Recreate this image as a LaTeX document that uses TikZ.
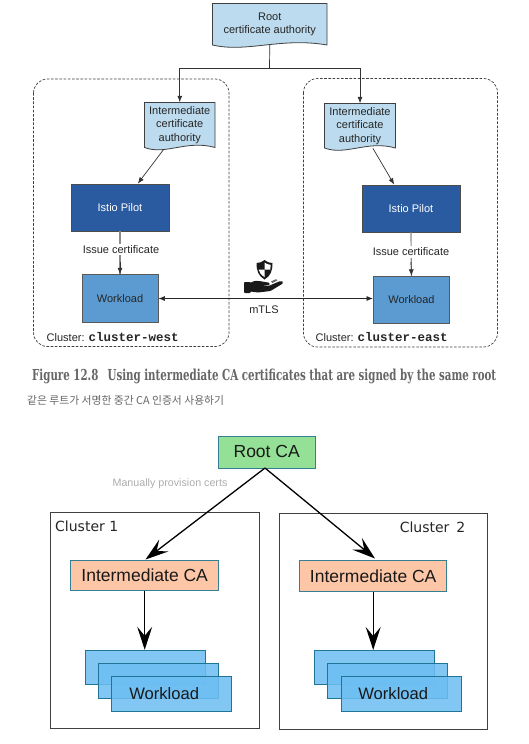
\documentclass[tikz,border=0pt]{standalone}
\usepackage{fontspec}
\usepackage{graphicx}
\setmainfont{Liberation Sans}
\newfontfamily\monob{Liberation Mono}[Scale=1]
\newfontfamily\capf{DejaVu Serif}
\newfontfamily\krf{Noto Sans CJK KR}
\newfontfamily\clf{DejaVu Sans}
\usetikzlibrary{arrows.meta,calc}
\definecolor{docblue}{HTML}{BDDBEE}
\definecolor{pilotblue}{HTML}{2A5AA0}
\definecolor{wlblue}{HTML}{5B9BD1}
\definecolor{rootgreen}{HTML}{94E096}
\definecolor{peach}{HTML}{FDC6A6}
\definecolor{tealb}{HTML}{357F95}
\definecolor{stackblue}{HTML}{6DBEF3}
\definecolor{stackline}{HTML}{1F7596}
\tikzset{
  x=1pt,y=-1pt,
  docshape/.style={draw=black!75,fill=docblue,line width=.8pt},
  doctext/.style={inner sep=0pt,font=\fontsize{11}{13.5}\selectfont,align=center,text=black!85},
  clusterdash/.style={draw=black!75,dashed,dash pattern=on 2.6pt off 1.6pt,line width=.7pt,rounded corners=14pt},
  pilotbox/.style={draw=black!70,fill=pilotblue,line width=.7pt,minimum width=98pt,minimum height=47pt,inner sep=0pt,text=white,font=\fontsize{11}{13}\selectfont},
  wlbox/.style={draw=black!65,fill=wlblue,line width=.9pt,minimum width=76pt,minimum height=47.5pt,inner sep=0pt,text=black!85,font=\fontsize{11}{13}\selectfont},
  smalllabel/.style={inner sep=1.5pt,fill=white,font=\fontsize{11}{13}\selectfont,text=black!85},
  plainlabel/.style={inner sep=0pt,font=\fontsize{11}{13}\selectfont,text=black!85,anchor=west},
  thinarrow/.style={draw=black!80,line width=.7pt,-{Latex[length=6.5pt,width=5pt]}},
  greyarrow/.style={draw=black!45,line width=1.2pt},
  rootbox/.style={draw=tealb,fill=rootgreen,line width=1pt,minimum width=97pt,minimum height=32pt,inner sep=0pt,font=\fontsize{17.5}{20}\selectfont,text=black!90},
  interbox/.style={draw=tealb,fill=peach,line width=1pt,minimum width=147.5pt,minimum height=30.5pt,inner sep=0pt,font=\fontsize{17.5}{20}\selectfont,text=black!90},
  stackbox/.style={draw=stackline,fill=stackblue,fill opacity=.85,text opacity=1,line width=1pt,minimum width=120pt,minimum height=34.5pt,inner sep=0pt,font=\fontsize{16.6}{20}\selectfont,text=black!90},
  clusterbox/.style={draw=black!75,line width=1pt},
  bigarrow/.style={draw=black,line width=1.3pt,-{Stealth[length=23pt,width=15pt,inset=9pt]}},
  clname/.style={inner sep=0pt,font=\clf\fontsize{14}{16}\selectfont,text=black!85},
}
\newcommand{\docnode}[6]{%
  \path[docshape] (#2,#3) -- (#4,#3) -- (#4,#5)
    .. controls ({#4-(#4-#2)*.4},{#5-8}) and ({#2+(#4-#2)*.3},{#5+8}) .. (#2,#5) -- cycle;
  \node[doctext] (#1) at ({(#2+#4)/2},{(#3+#5)/2}) [minimum width={#4-#2},minimum height={#5-#3}] {#6};
}
\begin{document}
\begin{tikzpicture}
\useasboundingbox (0,0) rectangle (529,744);
\fill[white] (0,0) rectangle (529,744);

% ---------- upper figure
\draw[clusterdash] (33.5,79) rectangle (229,346.5);
\draw[clusterdash] (303.5,78.5) rectangle (497.5,347);

\docnode{rootdoc}{212.5}{3.5}{327}{45}{Root\\certificate authority}
\docnode{leftdoc}{144.5}{102.5}{215}{147.5}{Intermediate\\certificate\\authority}
\docnode{rightdoc}{324.5}{103.5}{395.5}{148}{Intermediate\\certificate\\authority}

\node[pilotbox] (leftpilot) at (120,207.5) {Istio Pilot};
\node[pilotbox] (rightpilot) at (411,208.5) {Istio Pilot};
\node[wlbox] (leftwl) at (120,298.5) {Workload};
\node[wlbox] (rightwl) at (373,300) [anchor=west] {Workload};

\coordinate (split) at (269.5,68.5);
\draw[draw=black!80,line width=.7pt] (rootdoc.south) -- (split);
\draw[thinarrow] (split) -| (leftdoc.north);
\draw[thinarrow] (split) -| (rightdoc.north);
\draw[thinarrow] ($(leftdoc.south west)!.27!(leftdoc.south east)+(0,2)$) -- ($(leftpilot.north west)!.68!(leftpilot.north east)$);
\draw[thinarrow] ($(rightdoc.south west)!.68!(rightdoc.south east)$) -- ($(rightpilot.north west)!.33!(rightpilot.north east)$);

\draw[greyarrow] (leftpilot.south) -- (leftwl.north);
\draw[thinarrow] (120,262) -- (leftwl.north);
\draw[greyarrow] (rightpilot.south) -- (rightwl.north);
\draw[thinarrow] (411,262) -- (rightwl.north);
\node[smalllabel] (leftissue) at (121,249.5) {Issue certificate};
\node[smalllabel] (rightissue) at (411,252) {Issue certificate};

\draw[draw=black!85,line width=.7pt,{Latex[length=6.5pt,width=5pt]}-{Latex[length=6.5pt,width=5pt]}] (leftwl.east) -- (rightwl.west |- leftwl.east);

\node[plainlabel] (leftcl) at (46.5,337) {Cluster: {\monob\bfseries\fontsize{12.5}{13}\selectfont cluster-west}};
\node[plainlabel] (rightcl) at (315.5,337) {Cluster: {\monob\bfseries\fontsize{12.5}{13}\selectfont cluster-east}};
\node[inner sep=0pt,font=\fontsize{11}{13}\selectfont,text=black!85] (mtls) at (264,310) {mTLS};

% mTLS icon: shield over an open hand
\fill[black!90] (264.5,260) .. controls (261,262.5) and (259,263) .. (256.5,263) .. controls (256.5,271) and (258.5,276) .. (264.5,279.5)
   .. controls (270.5,276) and (272.5,271) .. (272.5,263) .. controls (270,263) and (268,262.5) .. (264.5,260) -- cycle;
\fill[white] (264.5,262.5) -- (264.5,269.5) -- (270.4,269.5) .. controls (270.6,267.5) and (270.6,266.5) .. (270.6,264.8) .. controls (268,264.6) and (266.5,264) .. (264.5,262.5) -- cycle;
\fill[white] (264.5,269.5) -- (258.6,269.5) .. controls (259.3,272.5) and (261,275) .. (264.5,277) -- cycle;
\fill[black!90,rounded corners=.8pt] (244,282) -- (250.5,282) -- (250.5,283) .. controls (254,280.5) and (258,280.5) .. (262,281.5) -- (268,282.5) .. controls (270,283) and (270,285) .. (268,285.2) -- (260,285) -- (268.5,286) -- (279,281.5) .. controls (282,280.5) and (284,282) .. (282,284)
   -- (270.5,291) -- (258,292.5) -- (250.5,291.5) -- (250.5,293) -- (244,293) -- cycle;
\fill[black!60] (271,281.5) -- (276,279.2) -- (277.5,280.3) -- (272.5,283) -- cycle;

% captions
\node[inner sep=0pt,text=black!60,anchor=west] (figcap) at (32,376.5) {\resizebox{464pt}{11.5pt}{\capf\bfseries Figure 12.8\hspace{.9em}Using intermediate CA certificates that are signed by the same root}};
\node[inner sep=0pt,text=black!60,anchor=west,font=\krf\fontsize{10.8}{12}\selectfont] (krcap) at (27,400) {같은 루트가 서명한 중간 CA 인증서 사용하기};

% ---------- lower figure
\draw[clusterbox] (50.5,512) rectangle (259,728.5);
\draw[clusterbox] (279.5,513) rectangle (487.5,729);
\node[clname,anchor=west] (cl1) at (55,526.5) {Cluster 1};
\node[clname,anchor=east] (cl2) at (465.5,527) {Cluster\hspace{2.5pt} 2};

\node[rootbox] (rootca) at (266.7,452) {\raisebox{1pt}{Root CA}};
\node[interbox] (leftca) at (144.7,575.7) {\raisebox{1pt}{Intermediate CA}};
\node[interbox] (rightca) at (373.2,576.2) {\raisebox{1pt}{Intermediate CA}};

\node[stackbox] (l1) at (145,667.5) {};
\node[stackbox] (l2) at (158.5,681.2) {};
\node[stackbox] (l3) at (171.7,693.8) {\hspace*{-15pt}\raisebox{1.5pt}{Workload}};
\node[stackbox] (r1) at (374,667.7) {};
\node[stackbox] (r2) at (387.5,681.2) {};
\node[stackbox] (r3) at (401,694) {\hspace*{-15.5pt}\raisebox{1.5pt}{Workload}};

\coordinate (rootout) at (265,468);
\draw[bigarrow] (rootout) -- (145.5,559.5);
\draw[bigarrow] (rootout) -- (375,558.5);
\draw[bigarrow] (leftca.south) -- (leftca.south |- l1.north);
\draw[bigarrow] (rightca.south) -- (rightca.south |- r1.north);

\node[inner sep=0pt,text=black!32,font=\fontsize{10.7}{12}\selectfont] (manual) at (170,484) {Manually provision certs};
\end{tikzpicture}
\end{document}
